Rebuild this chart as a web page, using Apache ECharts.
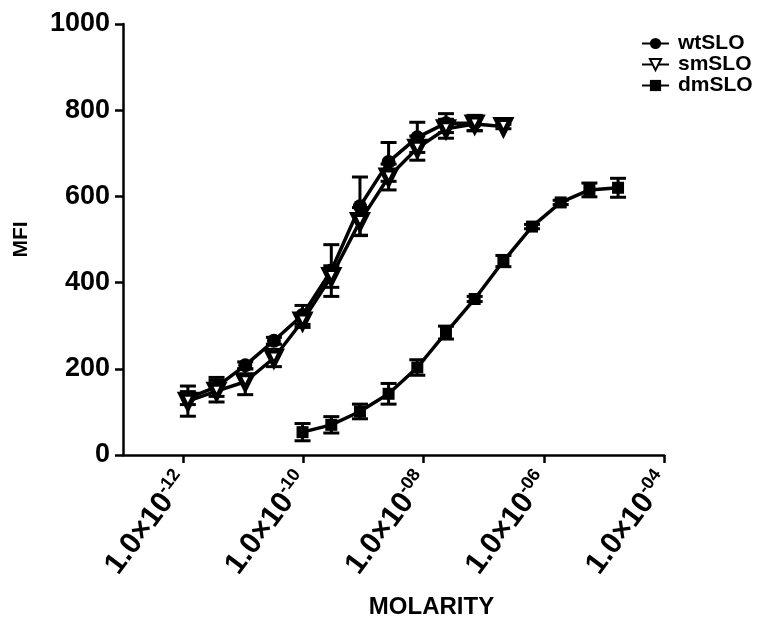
<!DOCTYPE html>
<html>
<head>
<meta charset="utf-8">
<script src="https://cdn.jsdelivr.net/npm/echarts@6/dist/echarts.min.js"></script>
<style>
  html, body { margin: 0; padding: 0; background: #fff; }
  #chart { width: 777px; height: 624px; }
</style>
</head>
<body>
<div id="chart"></div>
<script>
// molar concentrations (3-fold dilutions) and mean MFI +/- SD
var wtMolar = [1.2e-12, 3.6e-12, 1.08e-11, 3.24e-11, 9.7e-11, 2.92e-10, 8.75e-10, 2.62e-9, 7.87e-9, 2.36e-8, 7.09e-8];
var wtMFI = [132, 158, 208, 265, 325, 428, 577, 680, 737, 770, 770];
var wtSD = [15, 22, 8, 8, 22, 60, 68, 45, 35, 22, 18];

var smMolar = [1.2e-12, 3.6e-12, 1.08e-11, 3.24e-11, 9.7e-11, 2.92e-10, 8.75e-10, 2.62e-9, 7.87e-9, 2.36e-8, 7.09e-8, 2.13e-7];
var smMFI = [125, 148, 170, 225, 311, 414, 542, 645, 712, 757, 768, 762];
var smSD = [35, 25, 30, 20, 15, 25, 32, 30, 28, 22, 15, 5];

var dmMolar = [9.7e-11, 2.92e-10, 8.75e-10, 2.62e-9, 7.87e-9, 2.36e-8, 7.09e-8, 2.13e-7, 6.38e-7, 1.91e-6, 5.74e-6, 1.72e-5];
var dmMFI = [53, 70, 101, 142, 203, 284, 362, 450, 530, 586, 615, 620];
var dmSD = [20, 19, 17, 24, 18, 15, 6, 13, 5, 5, 16, 22];

var xTicks = [-12, -10, -8, -6, -4]; // log10 molarity
var seriesNames = ['wtSLO', 'smSLO', 'dmSLO'];

var FONT = 'Liberation Sans, Arial, sans-serif';

function points(molar, mfi) {
    var out = [];
    for (var i = 0; i < molar.length; i++) {
        out.push([Math.log10(molar[i]), mfi[i]]);
    }
    return out;
}

function bars(molar, mfi, sd) {
    var out = [];
    for (var i = 0; i < molar.length; i++) {
        out.push([Math.log10(molar[i]), mfi[i] - sd[i], mfi[i] + sd[i]]);
    }
    return out;
}

function renderErrorBar(params, api) {
    var x = api.value(0);
    var top = api.coord([x, api.value(2)]);
    var bottom = api.coord([x, api.value(1)]);
    var half = 8;
    var style = { stroke: '#000', lineWidth: 3 };
    return {
        type: 'group',
        children: [
            { type: 'line', shape: { x1: top[0], y1: top[1], x2: bottom[0], y2: bottom[1] }, style: style },
            { type: 'line', shape: { x1: top[0] - half, y1: top[1], x2: top[0] + half, y2: top[1] }, style: style },
            { type: 'line', shape: { x1: bottom[0] - half, y1: bottom[1], x2: bottom[0] + half, y2: bottom[1] }, style: style }
        ]
    };
}

function errorSeries(data) {
    return {
        type: 'custom',
        renderItem: renderErrorBar,
        data: data,
        encode: { x: 0, y: [1, 2] },
        silent: true,
        z: 3
    };
}

function lineSeries(name, data, symbol, size, extra) {
    var s = {
        name: name,
        type: 'line',
        data: data,
        symbol: symbol,
        symbolSize: size,
        showAllSymbol: true,
        lineStyle: { color: '#000', width: 3.5 },
        itemStyle: { color: '#000' },
        z: 4
    };
    for (var k in extra) s[k] = extra[k];
    return s;
}

var chart = echarts.init(document.getElementById('chart'));

var option = {
    animation: false,
    backgroundColor: '#fff',
    grid: { left: 123, right: 113, top: 24, bottom: 165, containLabel: false },
    legend: {
        data: seriesNames,
        orient: 'vertical',
        left: 636,
        top: 28,
        itemWidth: 27,
        itemHeight: 14,
        itemGap: 0,
        textStyle: { fontFamily: FONT, fontWeight: 'bold', fontSize: 21, lineHeight: 19, color: '#000', padding: [0, 0, 0, 4] }
    },
    xAxis: {
        type: 'value',
        min: -13,
        max: -4,
        name: 'MOLARITY',
        nameLocation: 'middle',
        nameGap: 140,
        nameTextStyle: { fontFamily: FONT, fontWeight: 'bold', fontSize: 24, color: '#000', padding: [0, 0, 0, 76] },
        axisLine: { show: true, lineStyle: { color: '#000', width: 2.5 } },
        axisTick: { show: true, customValues: xTicks, length: 8, lineStyle: { color: '#000', width: 2.5 } },
        splitLine: { show: false },
        axisLabel: {
            customValues: xTicks,
            rotate: 53,
            margin: 21,
            color: '#000',
            formatter: function (v) {
                var e = Math.abs(v);
                var s = (e < 10 ? '0' : '') + e;
                return '{a|1.0×10}{b|-' + s + '}';
            },
            rich: {
                a: { fontFamily: FONT, fontWeight: 'bold', fontSize: 30, color: '#000', lineHeight: 34 },
                b: { fontFamily: FONT, fontWeight: 'bold', fontSize: 18, color: '#000', verticalAlign: 'top', lineHeight: 34, padding: [0, 0, 16, 0] }
            }
        }
    },
    yAxis: {
        type: 'value',
        min: 0,
        max: 1000,
        interval: 200,
        name: 'MFI',
        nameLocation: 'middle',
        nameGap: 91,
        nameTextStyle: { fontFamily: FONT, fontWeight: 'bold', fontSize: 21, color: '#000' },
        axisLine: { show: true, lineStyle: { color: '#000', width: 2.5 } },
        axisTick: { show: true, length: 8, lineStyle: { color: '#000', width: 2.5 } },
        splitLine: { show: false },
        axisLabel: {
            margin: 13, fontFamily: FONT, fontWeight: 'bold', fontSize: 27, color: '#000',
            formatter: function (v) { return String(v); }
        }
    },
    series: [
        errorSeries(bars(wtMolar, wtMFI, wtSD)),
        errorSeries(bars(smMolar, smMFI, smSD)),
        errorSeries(bars(dmMolar, dmMFI, dmSD)),
        lineSeries('wtSLO', points(wtMolar, wtMFI), 'circle', 14, {}),
        lineSeries('smSLO', points(smMolar, smMFI), 'triangle', 14, {
            symbolRotate: 180,
            itemStyle: { color: '#fff', borderColor: '#000', borderWidth: 5 }
        }),
        lineSeries('dmSLO', points(dmMolar, dmMFI), 'rect', 12, {})
    ]
};

chart.setOption(option);
</script>
</body>
</html>
